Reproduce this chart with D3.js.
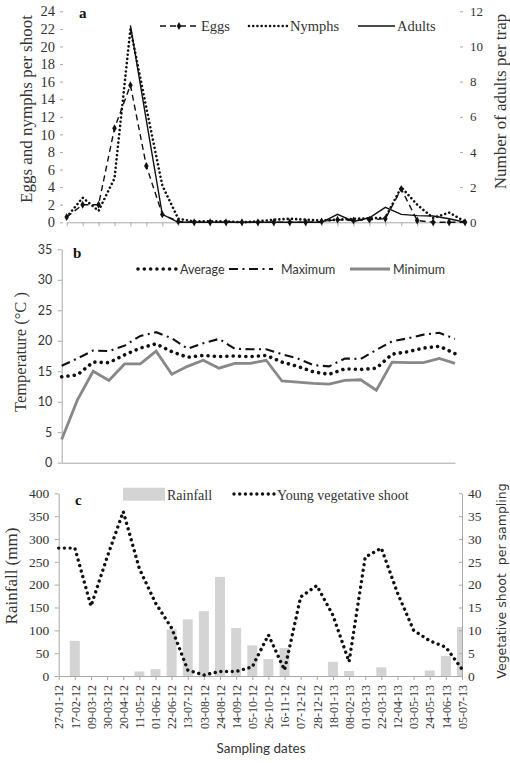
<!DOCTYPE html>
<html><head><meta charset="utf-8">
<script src="https://cdn.jsdelivr.net/npm/d3@7"></script>
<style>
html,body{margin:0;padding:0;background:#fff;}
svg{display:block;}
</style></head>
<body>
<svg id="chart" width="510" height="763"></svg>
<script>
// ---------- DATA ----------
const dates = ["27-01-12","17-02-12","09-03-12","30-03-12","20-04-12","11-05-12","01-06-12","22-06-12","13-07-12","03-08-12","24-08-12","14-09-12","05-10-12","26-10-12","16-11-12","07-12-12","28-12-12","18-01-13","08-02-13","01-03-13","22-03-13","12-04-13","03-05-13","24-05-13","14-06-13","05-07-13"];
// panel a
const eggs   = [0.6,2.0,2.0,10.7,15.6,6.4,0.9,0.1,0,0,0,0,0,0,0,0,0.1,0.3,0.2,0.3,0.4,3.8,0.2,0,0,0];
const nymphs = [0.6,2.8,1.3,5.0,22.0,13.0,4.2,0.4,0.1,0.1,0.1,0,0.1,0.3,0.4,0.3,0.2,0.3,0.4,0.45,0.5,4.0,2.0,0.5,1.1,0.1];
const adults = [null,null,null,null,11.2,5.8,0.45,0,0,0,0,0,0,0,0,0,0,0.45,0.05,0.26,0.85,0.45,0.38,0.36,0.2,0];
const ticksA  = [0,2,4,6,8,10,12,14,16,18,20,22,24];
const ticksA2 = [0,2,4,6,8,10,12];
// panel b
const tAvg = [14.1,14.4,16.5,16.4,17.7,18.8,19.5,18.2,17.3,17.6,17.4,17.5,17.4,17.6,16.5,15.8,14.9,14.5,15.4,15.3,15.5,17.8,18.2,18.8,19.1,17.9];
const tMax = [15.9,17.1,18.4,18.3,19.2,20.8,21.4,20.4,18.7,19.6,20.3,18.7,18.6,18.6,17.8,17.1,16.0,15.8,17.1,17.0,18.5,19.9,20.4,21.0,21.3,20.3];
const tMin = [3.8,10.3,15.0,13.5,16.2,16.2,18.3,14.5,15.8,16.8,15.5,16.3,16.3,16.8,13.4,13.2,13.0,12.9,13.5,13.6,11.9,16.5,16.4,16.4,17.1,16.3];
const ticksB = [0,5,10,15,20,25,30,35];
// panel c
const rain  = [0,77,0,0,0,10,15,102,124,142,217,105,67,37,61,0,0,31,11,0,19,0,0,12,44,107];
const shoot = [28,28,15.3,26,36,23.5,16,10.5,1.3,0.2,1,1,2,9,1.3,17.3,19.8,13.3,3.1,26,28,18.2,10,7.7,6.3,1.5];
const ticksC  = [0,50,100,150,200,250,300,350,400];
const ticksC2 = [0,5,10,15,20,25,30,35,40];

// ---------- DRAW ----------
const svg = d3.select("#chart");
const axisCol = "#a8a8a8", txtCol = "#333", ink = "#111";
const serif = '"Liberation Serif","Times New Roman",serif';
const sans = 'Lato,"Open Sans",sans-serif';

function styleAxis(g, font, size, showDomain){
  g.selectAll(".tick line").attr("stroke", axisCol);
  g.select(".domain").attr("stroke", showDomain ? axisCol : "none");
  g.selectAll(".tick text").attr("fill", txtCol).style("font-family", font).style("font-size", size+"px");
}
function vlabel(x, y, text, font, size){
  return svg.append("text").attr("transform",`translate(${x},${y}) rotate(-90)`)
    .attr("text-anchor","middle").attr("fill", txtCol).style("white-space","pre")
    .style("font-family",font).style("font-size",size+"px").text(text);
}
function dotted(sel, w, gap){
  return sel.attr("stroke-width",w).attr("stroke-linecap","round").attr("stroke-dasharray",`0.01,${gap}`);
}

// ===== Panel a =====
const xa = d3.scalePoint().domain(dates).range([66.7, 465]);
const ya = d3.scaleLinear().domain([0,24]).range([222.3, 11.3]);
const ya2 = d3.scaleLinear().domain([0,12]).range([222.3, 11.3]);

svg.append("g").attr("transform","translate(63,0)")
  .call(d3.axisLeft(ya).tickValues(ticksA).tickSize(3).tickPadding(5).tickSizeOuter(0))
  .call(g=>styleAxis(g, serif, 14.5, false));
svg.append("g").attr("transform","translate(460,0)")
  .call(d3.axisRight(ya2).tickValues(ticksA2).tickSize(3).tickPadding(7).tickSizeOuter(0))
  .call(g=>styleAxis(g, serif, 13, false));
svg.append("g").attr("transform","translate(0,222.3)")
  .call(d3.axisBottom(xa).tickSize(4).tickSizeOuter(0).tickFormat(""))
  .call(g=>styleAxis(g, serif, 12, true));

const lineA = d3.line().x((d,i)=>xa(dates[i])).y(d=>ya(d));
const lineA2 = d3.line().defined(d=>d!=null).x((d,i)=>xa(dates[i])).y(d=>ya2(d));
svg.append("path").datum(eggs).attr("d",lineA).attr("fill","none").attr("stroke",ink)
  .attr("stroke-width",1.4).attr("stroke-dasharray","6,4");
svg.append("g").selectAll("path").data(eggs).join("path")
  .attr("transform",(d,i)=>`translate(${xa(dates[i])},${ya(d)})`)
  .attr("d", d3.symbol(d3.symbolDiamond, 18)()).attr("fill",ink);
dotted(svg.append("path").datum(nymphs).attr("d",lineA).attr("fill","none").attr("stroke",ink), 2.6, 4.2);
svg.append("path").datum(adults).attr("d",lineA2).attr("fill","none").attr("stroke",ink)
  .attr("stroke-width",1.4);

svg.append("text").attr("x",79).attr("y",17.5).style("font-family",serif).style("font-weight","bold")
  .style("font-size","15px").attr("fill",ink).text("a");
vlabel(31.5, 109, "Eggs and nymphs per shoot", serif, 17);
vlabel(506, 101.5, "Number of adults per trap", serif, 17);

// legend a
const lgA = svg.append("g").style("font-family",serif).style("font-size","14.5px").attr("fill",txtCol);
lgA.append("line").attr("x1",160).attr("x2",197).attr("y1",26).attr("y2",26).attr("stroke",ink).attr("stroke-width",1.4).attr("stroke-dasharray","6,4");
lgA.append("path").attr("transform","translate(179,26)").attr("d",d3.symbol(d3.symbolDiamond,18)()).attr("fill",ink);
lgA.append("text").attr("x",201).attr("y",31).text("Eggs");
dotted(lgA.append("line").attr("x1",249).attr("x2",287).attr("y1",26).attr("y2",26).attr("stroke",ink), 2.6, 4.2);
lgA.append("text").attr("x",290).attr("y",31).text("Nymphs");
lgA.append("line").attr("x1",358).attr("x2",395).attr("y1",26).attr("y2",26).attr("stroke",ink).attr("stroke-width",1.4);
lgA.append("text").attr("x",397).attr("y",31).text("Adults");

// ===== Panel b =====
const xb = d3.scalePoint().domain(dates).range([61.7, 455]);
const yb = d3.scaleLinear().domain([0,35]).range([462.7, 249.3]);
svg.append("g").attr("transform","translate(61.7,0)")
  .call(d3.axisLeft(yb).tickValues(ticksB).tickSize(4).tickPadding(5.5).tickSizeOuter(0))
  .call(g=>styleAxis(g, sans, 12.5, true));
svg.append("g").attr("transform","translate(0,462.7)")
  .call(d3.axisBottom(xb).tickSize(0).tickSizeOuter(0).tickFormat(""))
  .call(g=>styleAxis(g, sans, 12, true));

const lineB = d3.line().x((d,i)=>xb(dates[i])).y(d=>yb(d));
svg.append("path").datum(tMin).attr("d",lineB).attr("fill","none").attr("stroke","#888")
  .attr("stroke-width",2.8);
svg.append("path").datum(tMax).attr("d",lineB).attr("fill","none").attr("stroke",ink)
  .attr("stroke-width",2.1).attr("stroke-dasharray","9,4.5,2,4.5");
dotted(svg.append("path").datum(tAvg).attr("d",lineB).attr("fill","none").attr("stroke",ink), 3.6, 6.3);

svg.append("text").attr("x",73).attr("y",258).style("font-family",serif).style("font-weight","bold")
  .style("font-size","15px").attr("fill",ink).text("b");
vlabel(25.5, 352, "Temperature (°C )", serif, 16.5);

const lgB = svg.append("g").style("font-family",sans).style("font-size","12.5px").attr("fill",txtCol);
dotted(lgB.append("line").attr("x1",138).attr("x2",176).attr("y1",269).attr("y2",269).attr("stroke",ink), 3.6, 6.3);
lgB.append("text").attr("x",180).attr("y",273.5).text("Average");
lgB.append("line").attr("x1",229).attr("x2",273).attr("y1",269).attr("y2",269).attr("stroke",ink).attr("stroke-width",2.1).attr("stroke-dasharray","9,4.5,2,4.5");
lgB.append("text").attr("x",281).attr("y",273.5).text("Maximum");
lgB.append("line").attr("x1",350).attr("x2",390).attr("y1",269).attr("y2",269).attr("stroke","#888").attr("stroke-width",2.8);
lgB.append("text").attr("x",393).attr("y",273.5).text("Minimum");

// ===== Panel c =====
const xc = d3.scalePoint().domain(dates).range([58.7, 462]);
const yc = d3.scaleLinear().domain([0,400]).range([676, 493.3]);
const yc2 = d3.scaleLinear().domain([0,40]).range([676, 493.3]);

svg.append("defs").append("clipPath").attr("id","clipC").append("rect")
  .attr("x",58.7).attr("y",480).attr("width",462-58.7).attr("height",196);
const barW = 10;
svg.append("g").attr("clip-path","url(#clipC)").selectAll("rect").data(rain).join("rect")
  .attr("x",(d,i)=>xc(dates[i])-barW/2).attr("width",barW)
  .attr("y",d=>yc(d)).attr("height",d=>yc(0)-yc(d)).attr("fill","#d4d4d4");

svg.append("g").attr("transform","translate(58.7,0)")
  .call(d3.axisLeft(yc).tickValues(ticksC).tickSize(4).tickPadding(5.5).tickSizeOuter(0))
  .call(g=>styleAxis(g, serif, 13.5, true));
svg.append("g").attr("transform","translate(462,0)")
  .call(d3.axisRight(yc2).tickValues(ticksC2).tickSizeInner(-3).tickPadding(6).tickSizeOuter(0))
  .call(g=>styleAxis(g, serif, 13.5, true));
svg.append("g").attr("transform","translate(0,676)")
  .call(d3.axisBottom(xc).tickSize(4).tickSizeOuter(0))
  .call(g=>styleAxis(g, serif, 12, true))
  .call(g=>g.selectAll(".tick text").attr("transform","rotate(-90)").attr("x",-9).attr("y",0)
      .attr("dy","0.35em").style("text-anchor","end"));

const lineC = d3.line().x((d,i)=>xc(dates[i])).y(d=>yc2(d));
dotted(svg.append("path").datum(shoot).attr("d",lineC).attr("fill","none").attr("stroke",ink), 3.4, 5.7);

svg.append("text").attr("x",75).attr("y",505).style("font-family",serif).style("font-weight","bold")
  .style("font-size","15px").attr("fill",ink).text("c");
vlabel(17, 576, "Rainfall (mm)", serif, 17);
vlabel(506, 581, "Vegetative shoot  per sampling", '"DejaVu Sans",Verdana,sans-serif', 12.5);
svg.append("text").attr("x",261).attr("y",753).attr("text-anchor","middle").attr("fill",txtCol)
  .style("font-family",sans).style("font-size","13.5px").text("Sampling dates");

const lgC = svg.append("g").style("font-family",serif).style("font-size","14px").attr("fill",txtCol);
lgC.append("rect").attr("x",123).attr("y",487.7).attr("width",42).attr("height",13).attr("fill","#d4d4d4");
lgC.append("text").attr("x",167).attr("y",499.5).text("Rainfall");
dotted(lgC.append("line").attr("x1",234).attr("x2",274).attr("y1",494).attr("y2",494).attr("stroke",ink), 3.4, 5.7);
lgC.append("text").attr("x",277).attr("y",499.5).text("Young vegetative shoot");
</script>
</body></html>
